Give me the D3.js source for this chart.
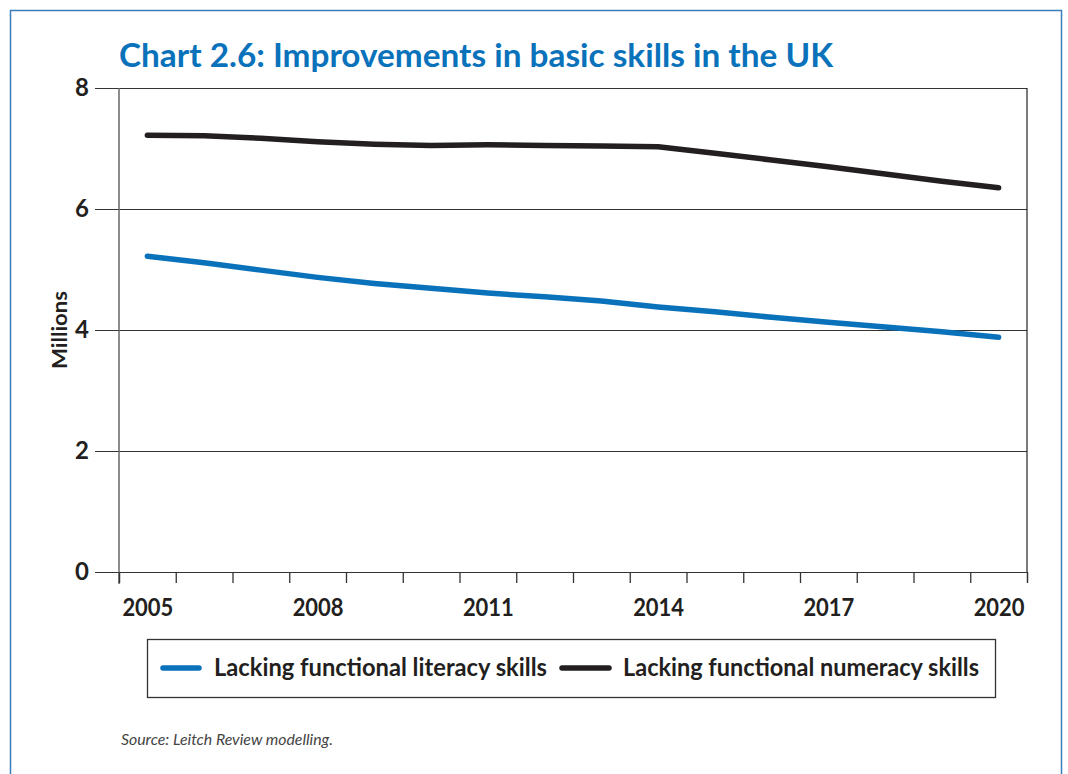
<!DOCTYPE html>
<html>
<head>
<meta charset="utf-8">
<script src="https://cdn.jsdelivr.net/npm/d3@7"></script>
<style>
  body { margin: 0; background: #fff; }
  svg { display: block; }
</style>
</head>
<body>
<svg id="chart"></svg>
<script>
// data (millions)
const years = [2005, 2006, 2007, 2008, 2009, 2010, 2011, 2012, 2013, 2014, 2015, 2016, 2017, 2018, 2019, 2020];
const literacy = [5.22, 5.11, 4.99, 4.87, 4.77, 4.69, 4.61, 4.55, 4.48, 4.38, 4.30, 4.21, 4.13, 4.05, 3.97, 3.88];
const numeracy = [7.22, 7.21, 7.17, 7.11, 7.07, 7.05, 7.06, 7.05, 7.04, 7.03, 6.92, 6.81, 6.70, 6.58, 6.46, 6.35];
const yTicks = [0, 2, 4, 6, 8];
const xLabels = [2005, 2008, 2011, 2014, 2017, 2020];
const seriesNames = ['Lacking functional literacy skills', 'Lacking functional numeracy skills'];
const seriesColors = ['#0a72bb', '#231f20'];

const width = 1068;
const height = 774;
const font = 'Lato, "Open Sans", sans-serif';
const ink = '#231f20';

const marginLeft = 119;
const marginRight = 1027;
const marginTop = 88;
const marginBottom = 572;

const svg = d3.select('#chart')
	.attr('width', width)
	.attr('height', height)
	.attr('viewBox', [0, 0, width, height]);

// squeeze text to a width (the original face is condensed)
function squeeze(sel, w) {
	sel.attr('textLength', w).attr('lengthAdjust', 'spacingAndGlyphs');
}

// outer frame
svg.append('rect')
	.attr('x', 10.5).attr('y', 10.5)
	.attr('width', 1051).attr('height', 800)
	.attr('fill', 'none')
	.attr('stroke', '#3a7dbb')
	.attr('stroke-width', 1.5);

// title
svg.append('text')
	.attr('x', 119).attr('y', 67)
	.attr('fill', '#0a72bb')
	.attr('font-family', font)
	.attr('font-weight', 700)
	.attr('font-size', 33)
	.text('Chart 2.6: Improvements in basic skills in the UK')
	.call(squeeze, 714);

// scales
const x = d3.scaleLinear()
	.domain([years[0] - 0.5, years[years.length - 1] + 0.5])
	.range([marginLeft, marginRight]);

const y = d3.scaleLinear()
	.domain([0, 8])
	.range([marginBottom, marginTop]);

// gridlines + left ticks
svg.append('g')
	.attr('transform', `translate(${marginLeft},0)`)
	.call(d3.axisLeft(y).tickValues(yTicks).tickSize(24).tickPadding(6).tickFormat(d3.format('d')))
	.call((g) => g.select('.domain').remove())
	.call((g) => g.selectAll('.tick line').attr('stroke', '#333').attr('stroke-width', 1))
	.call((g) => g.selectAll('.tick').filter((d) => d > 0).append('line')
		.attr('x2', marginRight - marginLeft)
		.attr('stroke', '#333')
		.attr('stroke-width', 1))
	.call((g) => g.selectAll('.tick text')
		.attr('fill', ink)
		.attr('font-family', font)
		.attr('font-weight', 700)
		.attr('font-size', 24));

// right frame line
svg.append('line')
	.attr('x1', marginRight).attr('x2', marginRight)
	.attr('y1', marginTop).attr('y2', marginBottom)
	.attr('stroke', '#222').attr('stroke-width', 1.2);

// left axis line
svg.append('line')
	.attr('x1', marginLeft).attr('x2', marginLeft)
	.attr('y1', marginTop).attr('y2', marginBottom + 12)
	.attr('stroke', '#666').attr('stroke-width', 1.5);

// x axis: ticks between years
const boundaries = years.map((d) => d - 0.5).concat(years[years.length - 1] + 0.5);
svg.append('g')
	.attr('transform', `translate(0,${marginBottom})`)
	.call(d3.axisBottom(x).tickValues(boundaries).tickSize(11).tickFormat(''))
	.call((g) => g.select('.domain').attr('stroke', '#333').attr('stroke-width', 1.2))
	.call((g) => g.selectAll('.tick line').attr('stroke', '#333').attr('stroke-width', 1.3));

// x labels
svg.append('g')
	.attr('transform', `translate(0,${marginBottom})`)
	.call(d3.axisBottom(x).tickValues(xLabels).tickSize(0).tickPadding(26).tickFormat(d3.format('d')))
	.call((g) => g.select('.domain').remove())
	.call((g) => g.selectAll('.tick text')
		.attr('fill', ink)
		.attr('font-family', font)
		.attr('font-weight', 700)
		.attr('font-size', 25)
		.call(squeeze, 51));

// y title
svg.append('text')
	.attr('transform', 'translate(67,330) rotate(-90)')
	.attr('text-anchor', 'middle')
	.attr('fill', ink)
	.attr('font-family', font)
	.attr('font-weight', 700)
	.attr('font-size', 20)
	.text('Millions')
	.call(squeeze, 78);

// lines
const line = d3.line()
	.x((d, i) => x(years[i]))
	.y((d) => y(d));

[literacy, numeracy].forEach((series, i) => {
	svg.append('path')
		.datum(series)
		.attr('fill', 'none')
		.attr('stroke', seriesColors[i])
		.attr('stroke-width', 5.5)
		.attr('stroke-linecap', 'round')
		.attr('stroke-linejoin', 'round')
		.attr('d', line);
});

// legend
const legend = svg.append('g');
legend.append('rect')
	.attr('x', 147.5).attr('y', 639.5)
	.attr('width', 848).attr('height', 58)
	.attr('fill', '#fff')
	.attr('stroke', '#333')
	.attr('stroke-width', 1.3);

const legendItems = [
	{ x1: 163, x2: 199, tx: 214, tw: 333 },
	{ x1: 562, x2: 609, tx: 623, tw: 356 },
];
legendItems.forEach((it, i) => {
	legend.append('line')
		.attr('x1', it.x1).attr('x2', it.x2)
		.attr('y1', 668).attr('y2', 668)
		.attr('stroke', seriesColors[i])
		.attr('stroke-width', 5.5)
		.attr('stroke-linecap', 'round');
	legend.append('text')
		.attr('x', it.tx).attr('y', 676)
		.attr('fill', ink)
		.attr('font-family', font)
		.attr('font-weight', 700)
		.attr('font-size', 25)
		.text(seriesNames[i])
		.call(squeeze, it.tw);
});

// source
svg.append('text')
	.attr('x', 121).attr('y', 745)
	.attr('fill', '#444')
	.attr('font-family', font)
	.attr('font-style', 'italic')
	.attr('font-size', 15)
	.text('Source: Leitch Review modelling.')
	.call(squeeze, 212);
</script>
</body>
</html>
